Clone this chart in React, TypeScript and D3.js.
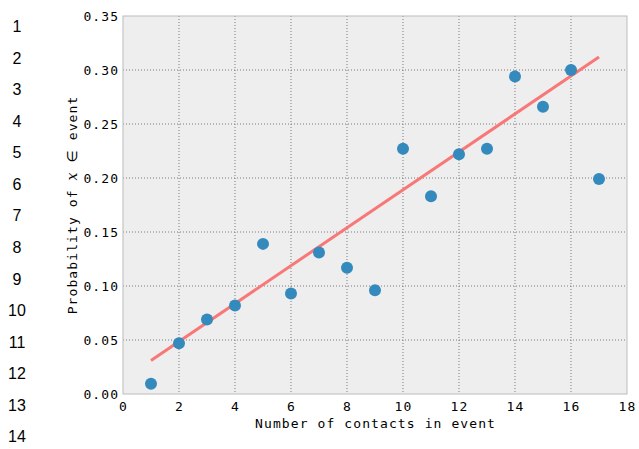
import React from "react";
import * as d3 from "d3";

const contacts = [1, 2, 3, 4, 5, 6, 7, 8, 9, 10, 11, 12, 13, 14, 15, 16, 17];
const probability = [0.0095, 0.047, 0.069, 0.082, 0.139, 0.093, 0.131, 0.117, 0.096, 0.227, 0.183, 0.222, 0.227, 0.294, 0.266, 0.300, 0.199];
const fitX = [1, 17];
const fitY = [0.031, 0.312];
const xTicks = [0, 2, 4, 6, 8, 10, 12, 14, 16, 18];
const yTicks = [0, 0.05, 0.1, 0.15, 0.2, 0.25, 0.3, 0.35];
const lineNumbers = [1, 2, 3, 4, 5, 6, 7, 8, 9, 10, 11, 12, 13, 14];

const W = 639, H = 449;
const left = 123, right = 627, top = 16, bottom = 394;
const mono = "'DejaVu Sans Mono', monospace";
const fs = 13;
const ls = 1.1;

export default function App() {
  const x = d3.scaleLinear().domain([0, 18]).range([left, right]);
  const y = d3.scaleLinear().domain([0, 0.35]).range([bottom, top]);
  const line = d3.line<number>().x((_, i) => x(fitX[i])).y((d) => y(d));
  return (
    <svg width={W} height={H} style={{ position: "absolute", left: 0, top: 0 }}>
      <rect x={0} y={0} width={W} height={H} fill="#fff" />
      {lineNumbers.map((n, i) => (
        <text key={n} x={17} y={26.7 + i * 31.54} textAnchor="middle" dominantBaseline="central"
          fontFamily="'Liberation Sans', Arial, sans-serif" fontSize={16} fill="#000">{n}</text>
      ))}
      <rect x={left} y={top} width={right - left} height={bottom - top} fill="#eeeeee" />
      {xTicks.slice(1, -1).map((t) => (
        <line key={"gx" + t} x1={x(t)} x2={x(t)} y1={top} y2={bottom} stroke="#7a7a7a" strokeWidth={1} strokeDasharray="1,2" />
      ))}
      {yTicks.slice(1, -1).map((t) => (
        <line key={"gy" + t} x1={left} x2={right} y1={y(t)} y2={y(t)} stroke="#7a7a7a" strokeWidth={1} strokeDasharray="1,2" />
      ))}
      <rect x={left} y={top} width={right - left} height={bottom - top} fill="none" stroke="#bcbcbc" strokeWidth={1} />
      <path d={line(fitY) || ""} fill="none" stroke="#f87878" strokeWidth={3} />
      {contacts.map((c, i) => (
        <circle key={c} cx={x(c)} cy={y(probability[i])} r={6} fill="#348abd" />
      ))}
      {xTicks.map((t) => (
        <text key={"tx" + t} x={x(t) + ls / 2} y={411} textAnchor="middle"
          fontFamily={mono} fontSize={fs} letterSpacing={ls} fill="#000">{t}</text>
      ))}
      {yTicks.map((t) => (
        <text key={"ty" + t} x={left - 5 + ls} y={y(t) + 4.7} textAnchor="end"
          fontFamily={mono} fontSize={fs} letterSpacing={ls} fill="#000">{t.toFixed(2)}</text>
      ))}
      <text x={(left + right) / 2 + ls / 2} y={427.5} textAnchor="middle"
        fontFamily={mono} fontSize={fs} letterSpacing={ls} fill="#000">Number of contacts in event</text>
      <text transform={`translate(77,${(top + bottom) / 2}) rotate(-90)`} textAnchor="middle"
        fontFamily={mono} fontSize={fs} letterSpacing={ls} fill="#000">
        Probability of <tspan fontFamily="'DejaVu Serif', serif" fontStyle="italic" fontSize={14}>x</tspan> <tspan fontFamily="'DejaVu Sans', sans-serif" fontSize={14}>∈</tspan> event
      </text>
    </svg>
  );
}
